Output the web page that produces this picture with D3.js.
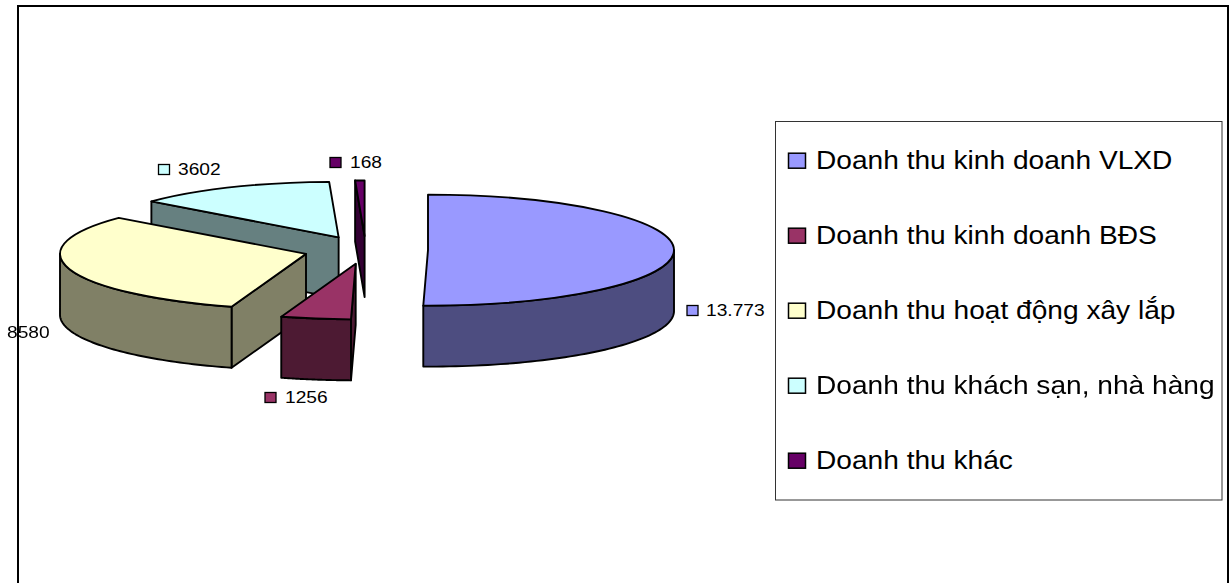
<!DOCTYPE html>
<html>
<head>
<meta charset="utf-8">
<script src="https://cdnjs.cloudflare.com/ajax/libs/d3/7.8.5/d3.min.js"></script>
<style>
    html, body { margin:0; padding:0; background:#fff; overflow:hidden; }
    svg { filter:blur(0.35px); }
    text { font-family:"Liberation Sans", Arial, sans-serif; fill:#000; }
</style>
</head>
<body>
<script>
// chart values
const categories = ['Doanh thu kinh doanh VLXD','Doanh thu kinh doanh BĐS','Doanh thu hoạt động xây lắp','Doanh thu khách sạn, nhà hàng','Doanh thu khác']
const values = [13773,1256,8580,3602,168]
const valueLabels = ['13.773','1256','8580','3602','168']
const topColors = ['#9999ff','#993366','#ffffcc','#ccffff','#660066']
const sideColors = ['#4d4d80','#4d1a33','#808066','#668080','#330033']

// layout of the picture
const width = 1229, height = 583
const center = {x:365.8, y:250}
const rx = 246, ry = 55.5, depth = 61, explode = 62.2
const labelSpots = [{x:687,y:310.5,tx:706},{x:265,y:397.5,tx:285},{x:null,y:332,tx:7},{x:158.5,y:169.5,tx:178},{x:330,y:162.5,tx:350}]
const legendBox = {x:775.5, y:121.5, w:446.5, h:378.5}
const stretch = 1.17 //the reference is stretched sideways, the text too
const legendStretch = 1.125

const svg = d3.select('body').append('svg')
    .attr('width',width)
    .attr('height',height)

svg.append('rect')
    .attr('x',18).attr('y',6)
    .attr('width',1210).attr('height',height)
    .attr('fill','#fff')
    .attr('stroke','#000')
    .attr('stroke-width',2)

const pie = d3.pie().sort(null).value(d => d)
const slices = pie(values).map((s,i) => {
    const mid = (s.startAngle + s.endAngle) / 2
    return {
        i: i,
        a0: s.startAngle,
        a1: s.endAngle,
        cx: center.x + explode * Math.sin(mid),
        cy: center.y - explode * Math.cos(mid) * ry / rx
    }
})

const rim = (s,a) => [s.cx + rx * Math.sin(a), s.cy - ry * Math.cos(a)]
const polygon = d3.line().curve(d3.curveLinearClosed)
const arc = d3.arc().innerRadius(0).outerRadius(rx)

//far slices first so the near ones cover them
const order = slices.slice().sort((a,b) => a.cy - b.cy)

const groups = svg.append('g').selectAll('g')
    .data(order)
    .join('g')

const edge = { 'stroke':'#000', 'stroke-width':1.9, 'stroke-linejoin':'round' }
const applyEdge = sel => Object.keys(edge).forEach(k => sel.attr(k,edge[k]))

//cut face at the start of a slice, only seen when it looks to the front
groups.filter(d => Math.sin(d.a0) < 0)
    .append('path')
    .attr('d', d => {
        const p = rim(d,d.a0)
        return polygon([[d.cx,d.cy],p,[p[0],p[1]+depth],[d.cx,d.cy+depth]])
    })
    .attr('fill', d => sideColors[d.i])
    .call(applyEdge)

//outer wall, the part of the rim that is on the front half
groups.filter(d => Math.max(d.a0,Math.PI/2) < Math.min(d.a1,Math.PI*1.5))
    .append('path')
    .attr('d', d => {
        const from = Math.max(d.a0,Math.PI/2)
        const to = Math.min(d.a1,Math.PI*1.5)
        const steps = d3.range(0,61).map(n => from + (to - from) * n / 60)
        const upper = steps.map(a => rim(d,a))
        const lower = upper.map(p => [p[0],p[1]+depth]).reverse()
        return polygon(upper.concat(lower))
    })
    .attr('fill', d => sideColors[d.i])
    .call(applyEdge)

//top faces, a flattened d3 arc
groups.append('path')
    .attr('d', d => arc({startAngle:d.a0, endAngle:d.a1}))
    .attr('transform', d => `translate(${d.cx},${d.cy}) scale(1,${ry/rx})`)
    .attr('vector-effect','non-scaling-stroke')
    .attr('fill', d => topColors[d.i])
    .call(applyEdge)

//value labels
const labels = svg.append('g').selectAll('g')
    .data(valueLabels)
    .join('g')

labels.filter((d,i) => labelSpots[i].x !== null)
    .append('rect')
    .attr('x',d => labelSpots[valueLabels.indexOf(d)].x)
    .attr('y',d => labelSpots[valueLabels.indexOf(d)].y - 5)
    .attr('width',11).attr('height',10)
    .attr('fill',d => topColors[valueLabels.indexOf(d)])
    .attr('stroke','#000')
    .attr('stroke-width',1.3)

labels.append('text')
    .attr('transform',(d,i) => `translate(${labelSpots[i].tx},${labelSpots[i].y + 5.5}) scale(${stretch},1)`)
    .attr('font-size',16.4)
    .text(d => d)

//legend
svg.append('rect')
    .attr('x',legendBox.x).attr('y',legendBox.y)
    .attr('width',legendBox.w).attr('height',legendBox.h)
    .attr('fill','#fff')
    .attr('stroke','#333')
    .attr('stroke-width',1)

const legendY = d3.scalePoint()
    .domain(categories)
    .range([160.7,460.7])

const legend = svg.append('g').selectAll('g')
    .data(categories)
    .join('g')
    .attr('transform',d => `translate(788.5,${legendY(d)})`)

legend.append('rect')
    .attr('x',0).attr('y',-7.5)
    .attr('width',17).attr('height',15)
    .attr('fill',(d,i) => topColors[i])
    .attr('stroke','#000')
    .attr('stroke-width',1.5)

legend.append('text')
    .attr('transform',`translate(27.5,8) scale(${legendStretch},1)`)
    .attr('font-size',25)
    .text(d => d)
</script>
</body>
</html>
